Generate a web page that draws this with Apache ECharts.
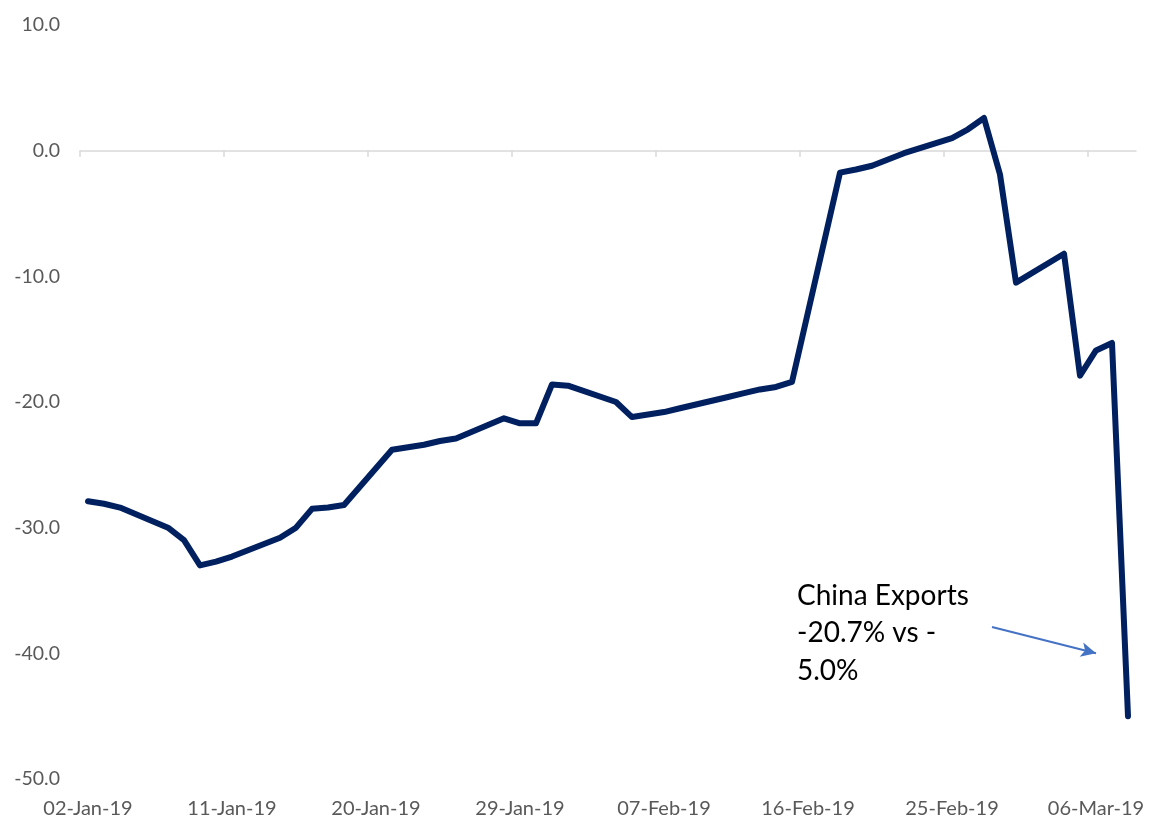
<!DOCTYPE html>
<html>
<head>
<meta charset="utf-8">
<script src="https://cdn.jsdelivr.net/npm/echarts@6/dist/echarts.min.js"></script>
<style>
  html, body { margin: 0; padding: 0; background: #ffffff; }
  #chart { width: 1168px; height: 820px; }
</style>
</head>
<body>
<div id="chart"></div>
<script>
// Trading days and daily readings (%)
const dates = [
  '2019-01-02','2019-01-03','2019-01-04','2019-01-07','2019-01-08','2019-01-09','2019-01-10','2019-01-11',
  '2019-01-14','2019-01-15','2019-01-16','2019-01-17','2019-01-18',
  '2019-01-21','2019-01-22','2019-01-23','2019-01-24','2019-01-25',
  '2019-01-28','2019-01-29','2019-01-30','2019-01-31','2019-02-01',
  '2019-02-04','2019-02-05','2019-02-06','2019-02-07','2019-02-08',
  '2019-02-11','2019-02-12','2019-02-13','2019-02-14','2019-02-15',
  '2019-02-18','2019-02-19','2019-02-20','2019-02-21','2019-02-22',
  '2019-02-25','2019-02-26','2019-02-27','2019-02-28','2019-03-01',
  '2019-03-04','2019-03-05','2019-03-06','2019-03-07','2019-03-08'
];
const values = [
  -27.9, -28.1, -28.4, -30.0, -31.0, -33.0, -32.7, -32.3,
  -30.8, -30.0, -28.5, -28.4, -28.2,
  -23.8, -23.6, -23.4, -23.1, -22.9,
  -21.3, -21.7, -21.7, -18.6, -18.7,
  -20.0, -21.2, -21.0, -20.8, -20.5,
  -19.6, -19.3, -19.0, -18.8, -18.4,
  -1.75, -1.5, -1.2, -0.7, -0.2,
  1.0, 1.7, 2.6, -1.9, -10.5,
  -8.2, -17.9, -15.9, -15.3, -45.0
];

// Dates shown under the axis
const xLabelDates = [
  '2019-01-02','2019-01-11','2019-01-20','2019-01-29',
  '2019-02-07','2019-02-16','2019-02-25','2019-03-06'
];
const axisEndDate = '2019-03-10';

// Value axis ticks
const yMin = -50, yMax = 10, yStep = 10;

// Callout text
const noteLines = ['China Exports', '-20.7% vs -', '5.0%'];

const DAY = 86400000;
const origin = Date.parse(xLabelDates[0] + 'T00:00:00Z');
const dayIndex = s => Math.round((Date.parse(s + 'T00:00:00Z') - origin) / DAY);
const MONTHS = ['Jan','Feb','Mar','Apr','May','Jun','Jul','Aug','Sep','Oct','Nov','Dec'];
function fmtDate(v) {
  const d = new Date(origin + Math.floor(v) * DAY);
  const dd = String(d.getUTCDate()).padStart(2, '0');
  const yy = String(d.getUTCFullYear()).slice(2);
  return dd + '-' + MONTHS[d.getUTCMonth()] + '-' + yy;
}

// Each day occupies one unit slot; points sit in the middle of their slot
const seriesData = dates.map((s, i) => [dayIndex(s) + 0.5, values[i]]);
const tickBounds = xLabelDates.map(s => dayIndex(s));
const labelCenters = xLabelDates.map(s => dayIndex(s) + 0.5);
const xMax = dayIndex(axisEndDate) - 1;

const FONT = 'Lato, "Open Sans", sans-serif';
const chart = echarts.init(document.getElementById('chart'), null, { renderer: 'canvas' });

chart.setOption({
  backgroundColor: '#ffffff',
  animation: false,
  grid: { left: 80, right: 32, top: 25, bottom: 41, containLabel: false, outerBoundsMode: 'none' },
  xAxis: [
    {
      type: 'value',
      min: 0,
      max: xMax,
      position: 'bottom',
      axisLine: { show: true, onZero: true, lineStyle: { color: '#d9d9d9', width: 1.5 } },
      axisTick: { show: true, customValues: tickBounds, length: 6, lineStyle: { color: '#d9d9d9', width: 1.5 } },
      axisLabel: { show: false },
      splitLine: { show: false }
    },
    {
      type: 'value',
      min: 0,
      max: xMax,
      position: 'bottom',
      axisLine: { show: false, onZero: false },
      axisTick: { show: false },
      axisLabel: {
        show: true,
        customValues: labelCenters,
        formatter: v => fmtDate(v),
        color: '#595959',
        fontSize: 20,
        fontFamily: FONT,
        margin: 20
      },
      splitLine: { show: false }
    }
  ],
  yAxis: {
    type: 'value',
    min: yMin,
    max: yMax,
    interval: yStep,
    axisLine: { show: false },
    axisTick: { show: false },
    splitLine: { show: false },
    axisLabel: {
      formatter: v => v.toFixed(1),
      color: '#595959',
      fontSize: 19.5,
      fontFamily: FONT,
      margin: 20
    }
  },
  series: [
    {
      type: 'line',
      xAxisIndex: 0,
      data: seriesData,
      showSymbol: false,
      silent: true,
      z: 5,
      lineStyle: { color: '#002060', width: 6, cap: 'round', join: 'round' },
      markLine: {
        silent: true,
        symbol: ['none', 'arrow'],
        symbolSize: [11, 15],
        label: { show: false },
        lineStyle: { color: '#4472C4', width: 2, type: 'solid' },
        data: [
          [ { coord: [57.0, -37.9] }, { coord: [63.5, -40.0] } ]
        ]
      }
    }
  ],
  graphic: [
    {
      type: 'text',
      left: 797,
      top: 577,
      silent: true,
      style: {
        text: noteLines.join('\n'),
        fontSize: 28,
        lineHeight: 37.5,
        fontFamily: FONT,
        fill: '#000000'
      }
    }
  ]
});
</script>
</body>
</html>
